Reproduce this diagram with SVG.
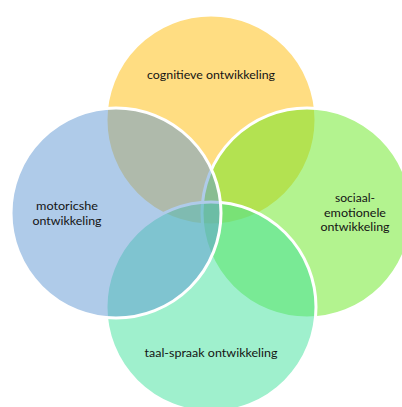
<svg xmlns="http://www.w3.org/2000/svg" width="402" height="407" viewBox="0 0 402 407">
  <style>
    .c { fill-opacity: 0.5; stroke: #FFFFFF; stroke-width: 3; }
    .t { font-family: Lato, "Open Sans", "Liberation Sans", sans-serif; font-size: 12px; fill: #141414; text-anchor: middle; }
  </style>
  <rect width="402" height="407" fill="#FFFFFF"/>
  <g id="cognitief">
    <circle class="c" cx="211" cy="120" r="105" fill="#FFBC05"/>
    <text class="t" x="211" y="79" textLength="128" lengthAdjust="spacingAndGlyphs">cognitieve ontwikkeling</text>
  </g>
  <g id="sociaal-emotioneel">
    <circle class="c" cx="307" cy="213" r="105" fill="#67E71F"/>
    <text class="t" x="355" y="202" textLength="40" lengthAdjust="spacingAndGlyphs">sociaal-</text>
    <text class="t" x="355" y="216.5" textLength="62" lengthAdjust="spacingAndGlyphs">emotionele</text>
    <text class="t" x="355" y="231" textLength="69" lengthAdjust="spacingAndGlyphs">ontwikkeling</text>
  </g>
  <g id="taal-spraak">
    <circle class="c" cx="211" cy="307" r="105" fill="#3FE19B"/>
    <text class="t" x="211" y="357" textLength="133" lengthAdjust="spacingAndGlyphs">taal-spraak ontwikkeling</text>
  </g>
  <g id="motorisch">
    <circle class="c" cx="116" cy="213" r="105" fill="#5F97D3"/>
    <text class="t" x="67" y="210" textLength="62" lengthAdjust="spacingAndGlyphs">motoricshe</text>
    <text class="t" x="67" y="225" textLength="69" lengthAdjust="spacingAndGlyphs">ontwikkeling</text>
  </g>
  <g id="connectors"></g>
</svg>
